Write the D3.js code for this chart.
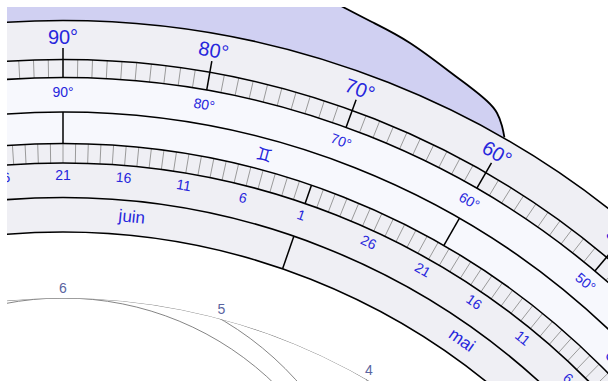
<!DOCTYPE html>
<html><head><meta charset="utf-8">
<script src="https://cdn.jsdelivr.net/npm/d3@7"></script>
<style>html,body{margin:0;padding:0;background:#fff;overflow:hidden}</style>
</head><body><svg id="chart" width="608" height="381"></svg>
<script>
// ---------------- DATA ----------------
const outerDegreeLabels = [90, 80, 70, 60, 50, 40, 30];
const eclipticDegreeLabels = [90, 80, 70, 60, 50, 40, 30];
const zodiacSigns = ["\u2648", "\u2649", "\u264A", "\u264B", "\u264C"];
const zodiacSignStarts = [0, 30, 60, 90, 120];
const monthNames = ["avril", "mai", "juin", "juillet"];
const monthFirstDay = [91, 121, 152, 182];   // day of year
const monthLengths = [30, 31, 30, 31];
const dayLabels = [1, 6, 11, 16, 21, 26];
const monthLabelDay = 15;
const hourLabels = [6, 5, 4, 3, 2, 1];
// calendar reading: 21 juin -> 90°, 6 mai -> 46.2°
const calendarDays = [172, 126];
const calendarLongitudes = [90, 46.2];

// ---------------- LAYOUT ----------------
const W = 608, H = 381;
const cx = 63, cy = 905;
const R = {
  outer: 884.5, degTickTop: 845.5, degTickBot: 827.5, majorTop: 857,
  eclLabelBot: 793, zodiacBot: 761.5, dayTickBot: 742, dayBot: 707.5, monthBot: 673,
  hours: 607,
  outerLabel: 861, eclLabel: 808, zodiacSym: 777, dayLabel: 725, monthLabel: 686, hourLabel: 612
};
const BLUE = "#2626dc", GREY = "#efeff4", LIGHT = "#f7f8fd", LAV = "#d0d0f2";
const FONT = "'Liberation Sans', Arial, sans-serif";

// longitude (deg) -> screen angle (deg, clockwise from up)
const lonToAngle = d3.scaleLinear().domain([90, 0]).range([0, 90]);
// day of year -> ecliptic longitude
const dayToLon = d3.scaleLinear().domain(calendarDays).range(calendarLongitudes);
// unequal hour -> angle
const hourToAngle = d3.scaleLinear().domain([6, 0]).range([0, 90]);

const rad = d => d * Math.PI / 180;
function polar(r, a) { return [cx + r * Math.sin(rad(a)), cy - r * Math.cos(rad(a))]; }
const inView = p => p[0] > -20 && p[0] < W + 12 && p[1] > -20 && p[1] < H + 12;

const svg = d3.select("#chart");
svg.append("rect").attr("width", W).attr("height", H).attr("fill", "#fff");
const defs = svg.append("defs");
defs.append("clipPath").attr("id", "view").append("rect")
  .attr("x", 7).attr("y", 7).attr("width", W - 7).attr("height", H - 7);
defs.append("clipPath").attr("id", "hourClip").append("circle")
  .attr("cx", cx).attr("cy", cy).attr("r", R.hours);

const g = svg.append("g").attr("clip-path", "url(#view)");

// ---- throne (lavender) ----
const throneAngle = 29.9;
const start = polar(R.outer + 1, throneAngle);
const thronePts = [start, [502, 126], [497, 113], [487, 101], [470, 87], [450, 72], [410, 43], [372, 22], [343, 7], [318, -6]];
const curveLine = d3.line().curve(d3.curveNatural);
const circlePts = d3.range(-40, throneAngle + 0.01, 0.5).map(a => polar(R.outer, a));
g.append("path").attr("d", curveLine(thronePts) + "L-60,-6" + d3.line()(circlePts).replace("M", "L") + "Z")
  .attr("fill", LAV);
g.append("path").attr("d", curveLine(thronePts)).attr("fill", "none")
  .attr("stroke", "#000").attr("stroke-width", 1.8);

// ---- ring fills ----
const arc = d3.arc().startAngle(0).endAngle(2 * Math.PI);
const bands = [
  [R.degTickTop, R.outer, GREY],
  [R.degTickBot, R.degTickTop, GREY],
  [R.eclLabelBot, R.degTickBot, LIGHT],
  [R.zodiacBot, R.eclLabelBot, LIGHT],
  [R.dayTickBot, R.zodiacBot, GREY],
  [R.dayBot, R.dayTickBot, GREY],
  [R.monthBot, R.dayBot, GREY]
];
const ringG = g.append("g").attr("transform", `translate(${cx},${cy})`);
bands.forEach(([ri, ro, c]) => {
  ringG.append("path").attr("d", arc.innerRadius(ri).outerRadius(ro)()).attr("fill", c);
});

function radial(r1, r2, a, stroke, w) {
  const p1 = polar(r1, a), p2 = polar(r2, a);
  g.append("line").attr("x1", p1[0]).attr("y1", p1[1]).attr("x2", p2[0]).attr("y2", p2[1])
    .attr("stroke", stroke).attr("stroke-width", w);
}

// degree ticks (outer scale)
d3.range(0, 181).forEach(lon => {
  if (lon % 10 !== 0) radial(R.degTickBot, R.degTickTop, lonToAngle(lon), "#9a9a9a", 1);
});
// day ticks
d3.range(60, 280).forEach(doy => {
  if (!monthFirstDay.includes(doy)) radial(R.dayTickBot, R.zodiacBot, lonToAngle(dayToLon(doy)), "#9a9a9a", 1);
});
// major outer ticks
d3.range(0, 181, 10).forEach(lon => radial(R.degTickBot, R.majorTop, lonToAngle(lon), "#000", 1.5));
// zodiac boundaries
zodiacSignStarts.concat([150]).forEach(lon => radial(R.zodiacBot, R.eclLabelBot, lonToAngle(lon), "#000", 1.5));
// month starts
monthFirstDay.concat([213]).forEach(doy => {
  const a = lonToAngle(dayToLon(doy));
  radial(R.dayTickBot, R.zodiacBot, a, "#000", 1.5);
  radial(R.monthBot, R.dayBot, a, "#000", 1.5);
});

// ring circles
[R.outer, R.degTickTop, R.degTickBot, R.eclLabelBot, R.zodiacBot, R.dayTickBot, R.dayBot, R.monthBot]
  .forEach(r => g.append("circle").attr("cx", cx).attr("cy", cy).attr("r", r)
    .attr("fill", "none").attr("stroke", "#000").attr("stroke-width", 1.6));

// ---- labels ----
function radialText(text, r, a, size, color, family, central) {
  const p = polar(r, a);
  if (!inView(p)) return;
  const t = g.append("text").attr("transform", `translate(${p[0]},${p[1]}) rotate(${a})`)
    .attr("text-anchor", "middle").attr("font-family", family || FONT)
    .attr("font-size", size).attr("fill", color).text(text);
  if (central) t.attr("dominant-baseline", "central");
}
outerDegreeLabels.forEach(v => radialText(v + "°", R.outerLabel, lonToAngle(v), 20, BLUE));
eclipticDegreeLabels.forEach(v => radialText(v + "°", R.eclLabel, lonToAngle(v), 14, BLUE));
zodiacSigns.forEach((s, i) =>
  radialText(s, R.zodiacSym, lonToAngle(zodiacSignStarts[i] + 15), 18, BLUE, "'DejaVu Sans', sans-serif", true));
monthFirstDay.forEach((first, i) => {
  dayLabels.forEach(d => {
    if (d <= monthLengths[i]) radialText(d, R.dayLabel, lonToAngle(dayToLon(first + d - 1)), 14, BLUE);
  });
  radialText(monthNames[i], R.monthLabel, lonToAngle(dayToLon(first + monthLabelDay - 1)), 17, BLUE);
});

// ---- unequal hour lines ----
const hg = g.append("g").attr("clip-path", "url(#hourClip)");
hg.append("circle").attr("cx", cx).attr("cy", cy).attr("r", R.hours)
  .attr("fill", "none").attr("stroke", "#858585").attr("stroke-width", 1);
hourLabels.forEach(h => {
  const a = hourToAngle(h);
  const k = R.hours / (2 * Math.cos(rad(a)));
  if (a < 89) hg.append("circle").attr("cx", cx).attr("cy", cy - k).attr("r", k)
    .attr("fill", "none").attr("stroke", "#858585").attr("stroke-width", 1);
  const p = polar(R.hourLabel, a);
  if (inView(p)) g.append("text").attr("x", p[0]).attr("y", p[1]).attr("text-anchor", "middle")
    .attr("font-family", FONT).attr("font-size", 14).attr("fill", "#5a64a0").text(h);
});
</script></body></html>
